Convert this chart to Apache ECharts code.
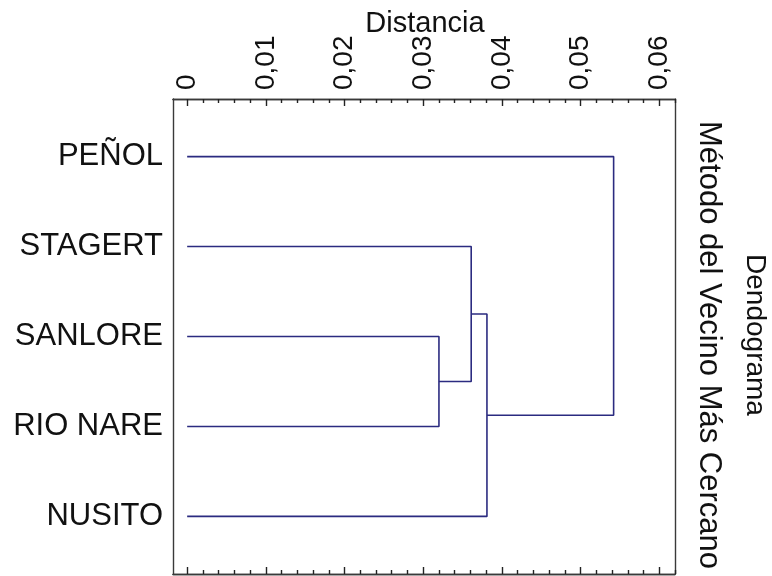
<!DOCTYPE html>
<html>
<head>
<meta charset="utf-8">
<script src="https://cdn.jsdelivr.net/npm/echarts@6/dist/echarts.min.js"></script>
<style>html,body{margin:0;padding:0;background:#fff;}#main{width:772px;height:576px;}</style>
</head>
<body>
<div id="main"></div>
<script>
// ---- data ----
const leaves = ['PEÑOL', 'STAGERT', 'SANLORE', 'RIO NARE', 'NUSITO'];
// each merge joins node A and node B at a given distance; merged nodes are named C1..C4
const mergeA = ['SANLORE', 'STAGERT', 'C2', 'PEÑOL'];
const mergeB = ['RIO NARE', 'C1', 'NUSITO', 'C3'];
const mergeHeight = [0.0320, 0.0361, 0.0381, 0.0542];
const tickValues = [0, 0.01, 0.02, 0.03, 0.04, 0.05, 0.06];
const tickLabels = ['0', '0,01', '0,02', '0,03', '0,04', '0,05', '0,06'];
const axisTitle = 'Distancia';
const chartTitle = 'Dendograma';
const chartSubtitle = 'Método del Vecino Más Cercano';

// ---- build dendrogram geometry in data space ----
const nodes = {};
leaves.forEach((n, i) => { nodes[n] = { y: i, h: 0 }; });
const series = [];
const lineColor = '#2b2b80';
mergeA.forEach((a, i) => {
  const b = mergeB[i];
  const H = mergeHeight[i];
  const na = nodes[a], nb = nodes[b];
  series.push({
    type: 'line', xAxisIndex: 0, yAxisIndex: 0, symbol: 'none', silent: true,
    lineStyle: { color: lineColor, width: 1.6 },
    data: [[na.h, na.y], [H, na.y], [H, nb.y], [nb.h, nb.y]]
  });
  nodes['C' + (i + 1)] = { y: (na.y + nb.y) / 2, h: H };
});

const minorTicks = [];
for (let k = 1; k <= 31; k++) { if (k % 5 !== 0) minorTicks.push(+(k * 0.002).toFixed(3)); }

const XMIN = -0.0018, XMAX = 0.062;
const font = 'Liberation Sans, Arial, sans-serif';

function xAx(pos, values, len, labels) {
  return {
    type: 'value', position: pos, min: XMIN, max: XMAX,
    axisLine: { show: true, onZero: false, lineStyle: { color: '#3a3a3a', width: 1.4 } },
    axisTick: { show: true, inside: true, length: len, customValues: values, lineStyle: { color: '#222', width: 1.4 } },
    axisLabel: labels ? {
      show: true, customValues: tickValues, rotate: -90, fontSize: 28, color: '#111', fontFamily: font, margin: 9,
      formatter: v => { const i = tickValues.findIndex(t => Math.abs(t - v) < 1e-9); return i >= 0 ? tickLabels[i] : ''; }
    } : { show: false },
    splitLine: { show: false }
  };
}

const option = {
  backgroundColor: '#fff',
  animation: false,
  grid: { left: 173, right: 97, top: 99, bottom: 2, show: false, containLabel: false, outerBoundsMode: 'none' },
  xAxis: [
    xAx('top', tickValues, 7, true),
    xAx('top', minorTicks, 4, false),
    xAx('bottom', tickValues, 7, false),
    xAx('bottom', minorTicks, 4, false)
  ],
  yAxis: [
    {
      type: 'value', inverse: true, min: -0.64, max: 4.64, position: 'left',
      axisLine: { show: true, onZero: false, lineStyle: { color: '#3a3a3a', width: 1.4 } },
      axisTick: { show: false },
      splitLine: { show: false },
      axisLabel: {
        show: true, customValues: [0, 1, 2, 3, 4], fontSize: 31, color: '#111', fontFamily: font, margin: 10,
        formatter: v => leaves[Math.round(v)]
      }
    },
    {
      type: 'value', inverse: true, min: -0.64, max: 4.64, position: 'right',
      axisLine: { show: true, onZero: false, lineStyle: { color: '#3a3a3a', width: 1.4 } },
      axisTick: { show: false }, axisLabel: { show: false }, splitLine: { show: false }
    }
  ],
  graphic: [
    { type: 'text', x: 425, y: 24, z: 10,
      style: { text: axisTitle, fontSize: 29, fill: '#111', fontFamily: font, align: 'center', verticalAlign: 'middle' } },
    { type: 'text', x: 755, y: 335, rotation: -Math.PI / 2,
      style: { text: chartTitle, fontSize: 28, fill: '#111', fontFamily: font, align: 'center', verticalAlign: 'middle' } },
    { type: 'text', x: 709, y: 345, rotation: -Math.PI / 2,
      style: { text: chartSubtitle, fontSize: 31, fill: '#111', fontFamily: font, align: 'center', verticalAlign: 'middle' } }
  ],
  series: series
};

const chart = echarts.init(document.getElementById('main'), null, { renderer: 'canvas' });
chart.setOption(option);
</script>
</body>
</html>
